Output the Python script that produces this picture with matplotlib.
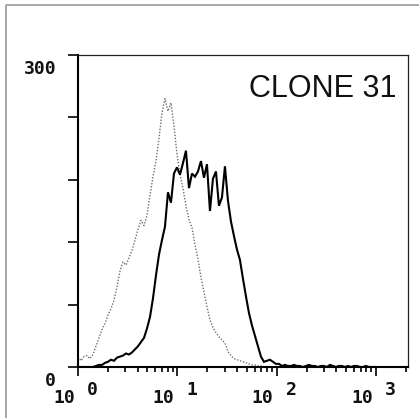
import numpy as np
import matplotlib
matplotlib.use("Agg")
import matplotlib.pyplot as plt
import matplotlib.transforms as mtransforms
from matplotlib.lines import Line2D

# ---------------- data ----------------
# histogram channel width in decades (log10 units)
bin_width_decades = 0.0302

# control (dotted) histogram, counts per channel starting at 10^0
control_counts = [10, 6, 10, 11, 8, 12, 20, 28, 36, 42,
                  50, 56, 64, 77, 92, 101, 98, 105, 112, 122,
                  132, 141, 136, 146, 165, 183, 198, 220, 244, 258,
                  246, 254, 232, 205, 185, 172, 155, 142, 134, 118,
                  104, 86, 72, 58, 45, 38, 33, 29, 26, 23,
                  15, 11, 8, 7, 6, 5, 4, 3, 2, 2,
                  1, 1, 0, 0, 0, 0]

# clone 31 (solid) histogram
clone_counts = [0, 0, 0, 0, 0, 0, 1, 2, 2, 4,
                5, 7, 6, 9, 10, 11, 13, 12, 14, 17,
                20, 24, 28, 37, 48, 66, 88, 108, 122, 135,
                168, 158, 186, 192, 185, 196, 208, 172, 186, 183,
                188, 198, 182, 195, 150, 181, 188, 155, 163, 193,
                160, 140, 126, 113, 103, 85, 68, 52, 40, 30,
                20, 10, 5, 6, 7, 5, 3, 3, 1, 2,
                1, 1, 2, 1, 1, 0, 1, 2, 1, 1,
                0, 1, 1, 0, 2, 1, 0, 1, 1, 0,
                1, 0, 1, 1, 0, 0, 1, 0, 0, 0]

y_ticks = [0, 60, 120, 180, 240, 300]
y_tick_labels = {0: "0", 300: "300"}
x_decades = [0, 1, 2, 3]
title_text = "CLONE 31"

# ---------------- figure ----------------
W, H = 419, 418
fig = plt.figure(figsize=(W / 100, H / 100), dpi=100)
fig.patch.set_facecolor("white")

left, right, top, bottom = 78, 408, 55, 367
ax = fig.add_axes([left / W, 1 - bottom / H, (right - left) / W, (bottom - top) / H])

x_ctrl = 10 ** (np.arange(len(control_counts)) * bin_width_decades)
x_clone = 10 ** (np.arange(len(clone_counts)) * bin_width_decades)

ax.plot(x_ctrl, control_counts, color="#707070",
        lw=1.0, linestyle=(0, (1, 1.2)))
ax.plot(x_clone, clone_counts, color="black", lw=1.5, solid_joinstyle="miter")

ax.set_xscale("log")
ax.set_xlim(1, 10 ** 3.323)
ax.set_ylim(0, 300)

# spines
for s in ["left", "bottom"]:
    ax.spines[s].set_linewidth(1.5)
    ax.spines[s].set_color("black")
for s in ["top", "right"]:
    ax.spines[s].set_linewidth(0.9)
    ax.spines[s].set_color("#222222")

ax.set_yticks(y_ticks)
ax.set_yticklabels([])
ax.tick_params(axis="y", direction="out", length=7, width=1.2, color="black")
ax.set_xticks([10 ** d for d in x_decades])
ax.xaxis.set_minor_locator(matplotlib.ticker.LogLocator(base=10, subs=np.arange(2, 10)))
ax.xaxis.set_minor_formatter(matplotlib.ticker.NullFormatter())
ax.set_xticklabels([])
ax.tick_params(axis="x", which="major", direction="out", length=6.5, width=1.2, color="black")
ax.tick_params(axis="x", which="minor", direction="out", length=3.8, width=1.2, color="black")

lab_font = dict(family="DejaVu Sans Mono", weight="bold", size=13, color="#111111")

# y tick labels
ytr = ax.get_yaxis_transform()
for v, s in y_tick_labels.items():
    ax.text(-22 / (right - left), v - 5 / 1.04, s, transform=ytr,
            ha="right", va="top", **lab_font)

# x tick labels: "10" plus raised exponent
xtr = ax.get_xaxis_transform()
t_base = mtransforms.offset_copy(xtr, fig=fig, x=-3, y=0, units="dots")
t_exp = mtransforms.offset_copy(xtr, fig=fig, x=9, y=0, units="dots")
for d in x_decades:
    ax.text(10 ** d, -(403 - bottom) / (bottom - top), "10", transform=t_base,
            ha="right", va="baseline", clip_on=False, **lab_font)
    ax.text(10 ** d, -(395 - bottom) / (bottom - top), str(d), transform=t_exp,
            ha="left", va="baseline", clip_on=False, **lab_font)

# title inside the plot
ax.text(0.965, 1 - (97 - top) / (bottom - top), title_text, transform=ax.transAxes,
        ha="right", va="baseline", family="Liberation Sans", size=22, color="#111111")

# light outer frame (left and top edges)
fig.add_artist(Line2D([6 / W, 6 / W, 1.0], [0.0, 1 - 5 / H, 1 - 5 / H],
                      transform=fig.transFigure, color="#9a9a9a", lw=1.2))

fig.savefig("out.png", dpi=100, facecolor="white")
